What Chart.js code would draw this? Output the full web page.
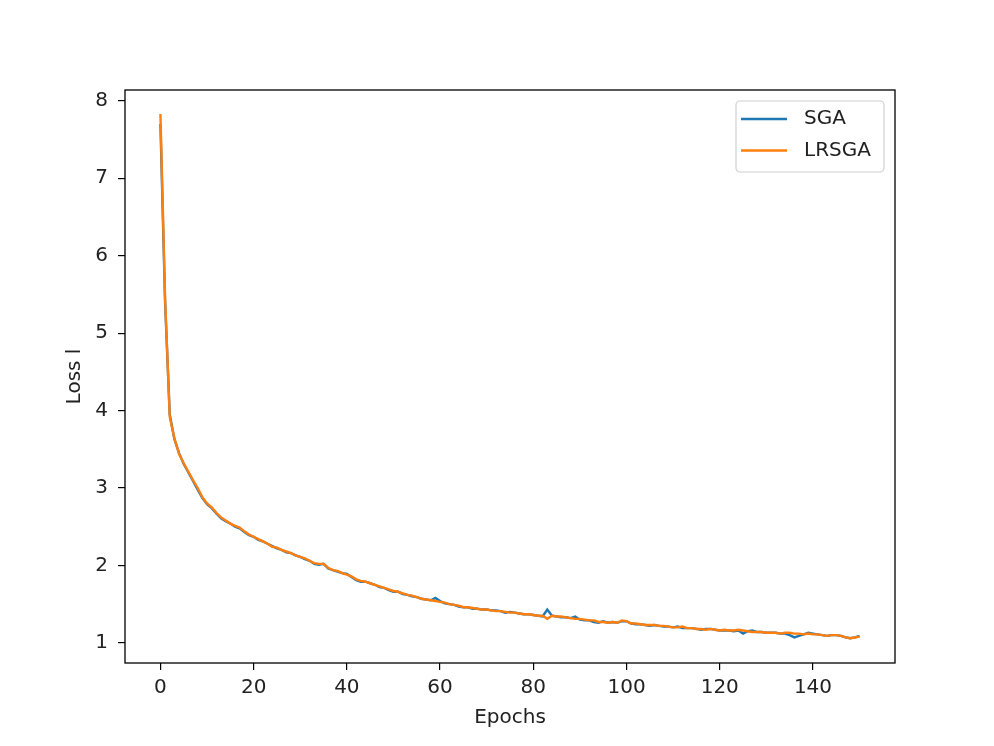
<!DOCTYPE html>
<html>
<head>
<meta charset="utf-8">
<script src="https://cdn.jsdelivr.net/npm/chart.js@4/dist/chart.umd.min.js"></script>
<style>
  html, body { margin: 0; padding: 0; background: #fff; }
  #wrap { width: 994px; height: 746px; }
</style>
</head>
<body>
<div id="wrap"><canvas id="lossChart" width="994" height="746"></canvas></div>
<script>
// values
const sgaLoss = [
  7.70, 5.40, 3.95, 3.63, 3.45, 3.31, 3.20, 3.09, 2.98, 2.87,
  2.79, 2.74, 2.67, 2.61, 2.57, 2.54, 2.50, 2.48, 2.43, 2.39,
  2.37, 2.33, 2.31, 2.28, 2.25, 2.22, 2.20, 2.17, 2.16, 2.13,
  2.11, 2.08, 2.06, 2.02, 2.01, 2.02, 1.96, 1.94, 1.92, 1.90,
  1.89, 1.85, 1.81, 1.79, 1.79, 1.77, 1.75, 1.72, 1.71, 1.68,
  1.66, 1.66, 1.63, 1.62, 1.60, 1.59, 1.57, 1.56, 1.55, 1.58,
  1.54, 1.51, 1.50, 1.49, 1.47, 1.46, 1.46, 1.44, 1.44, 1.43,
  1.43, 1.42, 1.42, 1.41, 1.39, 1.40, 1.39, 1.38, 1.37, 1.37,
  1.36, 1.35, 1.34, 1.43, 1.35, 1.34, 1.33, 1.33, 1.32, 1.34,
  1.30, 1.29, 1.29, 1.27, 1.26, 1.28, 1.26, 1.27, 1.26, 1.28,
  1.28, 1.25, 1.24, 1.24, 1.23, 1.22, 1.23, 1.22, 1.21, 1.21,
  1.20, 1.21, 1.19, 1.19, 1.19, 1.18, 1.17, 1.18, 1.18, 1.17,
  1.16, 1.16, 1.16, 1.15, 1.16, 1.12, 1.15, 1.16, 1.14, 1.14,
  1.13, 1.13, 1.13, 1.12, 1.12, 1.10, 1.07, 1.09, 1.11, 1.13,
  1.12, 1.11, 1.10, 1.09, 1.10, 1.10, 1.09, 1.07, 1.06, 1.07,
  1.09
];
const lrsgaLoss = [
  7.83, 5.45, 3.92, 3.64, 3.44, 3.32, 3.21, 3.10, 3.00, 2.88,
  2.80, 2.75, 2.68, 2.62, 2.58, 2.54, 2.51, 2.49, 2.44, 2.40,
  2.37, 2.34, 2.31, 2.28, 2.24, 2.23, 2.20, 2.18, 2.16, 2.13,
  2.11, 2.09, 2.06, 2.03, 2.02, 2.02, 1.97, 1.94, 1.93, 1.90,
  1.88, 1.86, 1.82, 1.80, 1.79, 1.77, 1.75, 1.73, 1.71, 1.69,
  1.67, 1.66, 1.64, 1.62, 1.61, 1.59, 1.57, 1.56, 1.55, 1.54,
  1.53, 1.52, 1.50, 1.49, 1.48, 1.46, 1.46, 1.45, 1.44, 1.43,
  1.43, 1.42, 1.41, 1.41, 1.40, 1.39, 1.39, 1.38, 1.37, 1.37,
  1.36, 1.35, 1.35, 1.31, 1.35, 1.34, 1.34, 1.33, 1.32, 1.31,
  1.31, 1.30, 1.29, 1.29, 1.27, 1.27, 1.26, 1.27, 1.26, 1.29,
  1.28, 1.25, 1.25, 1.24, 1.23, 1.23, 1.23, 1.22, 1.22, 1.21,
  1.20, 1.20, 1.21, 1.19, 1.19, 1.18, 1.18, 1.17, 1.18, 1.17,
  1.16, 1.17, 1.16, 1.16, 1.17, 1.16, 1.15, 1.14, 1.14, 1.14,
  1.13, 1.13, 1.13, 1.12, 1.13, 1.13, 1.12, 1.12, 1.11, 1.12,
  1.11, 1.11, 1.10, 1.09, 1.10, 1.10, 1.09, 1.07, 1.06, 1.07,
  1.08
];
const epochs = sgaLoss.map((v, i) => i);
const xTicks = [0, 20, 40, 60, 80, 100, 120, 140];
const yTicks = [1, 2, 3, 4, 5, 6, 7, 8];
const seriesNames = ['SGA', 'LRSGA'];
const seriesColors = ['#1f77b4', '#ff7f0e'];

const textColor = '#222';
const tickFont = { family: 'DejaVu Sans', size: 20 };

// black frame around the plot area like matplotlib
const framePlugin = {
  id: 'frame',
  afterDatasetsDraw(chart) {
    const a = chart.chartArea;
    const ctx = chart.ctx;
    ctx.save();
    ctx.strokeStyle = '#000';
    ctx.lineWidth = 1.3;
    ctx.strokeRect(a.left, a.top, a.right - a.left, a.bottom - a.top);
    ctx.restore();
  }
};

// legend box in the upper right corner of the plot
const boxLegend = {
  id: 'boxLegend',
  afterDraw(chart) {
    const ctx = chart.ctx;
    const a = chart.chartArea;
    const x0 = a.right - 159, y0 = a.top + 11, w = 148, h = 71;
    ctx.save();
    ctx.fillStyle = 'rgba(255,255,255,0.8)';
    ctx.strokeStyle = '#d0d0d0';
    ctx.lineWidth = 1.2;
    ctx.beginPath();
    ctx.roundRect(x0, y0, w, h, 4);
    ctx.fill();
    ctx.stroke();
    ctx.font = '20px "DejaVu Sans"';
    ctx.textBaseline = 'middle';
    chart.data.datasets.forEach((ds, i) => {
      const yy = y0 + 18 + i * 31.5;
      ctx.strokeStyle = ds.borderColor;
      ctx.lineWidth = 2.6;
      ctx.beginPath();
      ctx.moveTo(x0 + 5, yy);
      ctx.lineTo(x0 + 51, yy);
      ctx.stroke();
      ctx.fillStyle = textColor;
      ctx.fillText(ds.label, x0 + 68, yy);
    });
    ctx.restore();
  }
};

const lossChart = new Chart(document.getElementById('lossChart'), {
  type: 'line',
  data: {
    datasets: [
      {
        label: seriesNames[0],
        data: epochs.map((e, i) => ({ x: e, y: sgaLoss[i] })),
        borderColor: seriesColors[0],
        borderWidth: 2.4,
        order: 1
      },
      {
        label: seriesNames[1],
        data: epochs.map((e, i) => ({ x: e, y: lrsgaLoss[i] })),
        borderColor: seriesColors[1],
        borderWidth: 2.4,
        order: 0
      }
    ]
  },
  options: {
    responsive: false,
    animation: false,
    events: [],
    elements: { point: { radius: 0 }, line: { tension: 0 } },
    layout: { padding: { top: 90, right: 99, left: 0, bottom: 0 } },
    plugins: { legend: { display: false }, tooltip: { enabled: false } },
    scales: {
      x: {
        type: 'linear',
        min: -7.6,
        max: 157.6,
        afterBuildTicks: (s) => { s.ticks = xTicks.map(v => ({ value: v })); },
        afterFit: (s) => { s.height = 83; },
        grid: { drawOnChartArea: false, drawTicks: true, tickLength: 7, color: '#000', lineWidth: 1.2 },
        border: { display: false },
        ticks: { color: textColor, font: tickFont, padding: 6, maxRotation: 0 },
        title: { display: true, text: 'Epochs', color: textColor, font: tickFont, padding: { top: 0, bottom: 16 } }
      },
      y: {
        min: 0.74,
        max: 8.14,
        afterBuildTicks: (s) => { s.ticks = yTicks.map(v => ({ value: v })); },
        afterFit: (s) => { s.width = 125; },
        grid: { drawOnChartArea: false, drawTicks: true, tickLength: 7, color: '#000', lineWidth: 1.2 },
        border: { display: false },
        ticks: { color: textColor, font: tickFont, padding: 10 },
        title: { display: true, text: 'Loss l', color: textColor, font: tickFont, padding: { top: 63, bottom: 0 } }
      }
    }
  },
  plugins: [framePlugin, boxLegend]
});
</script>
</body>
</html>
